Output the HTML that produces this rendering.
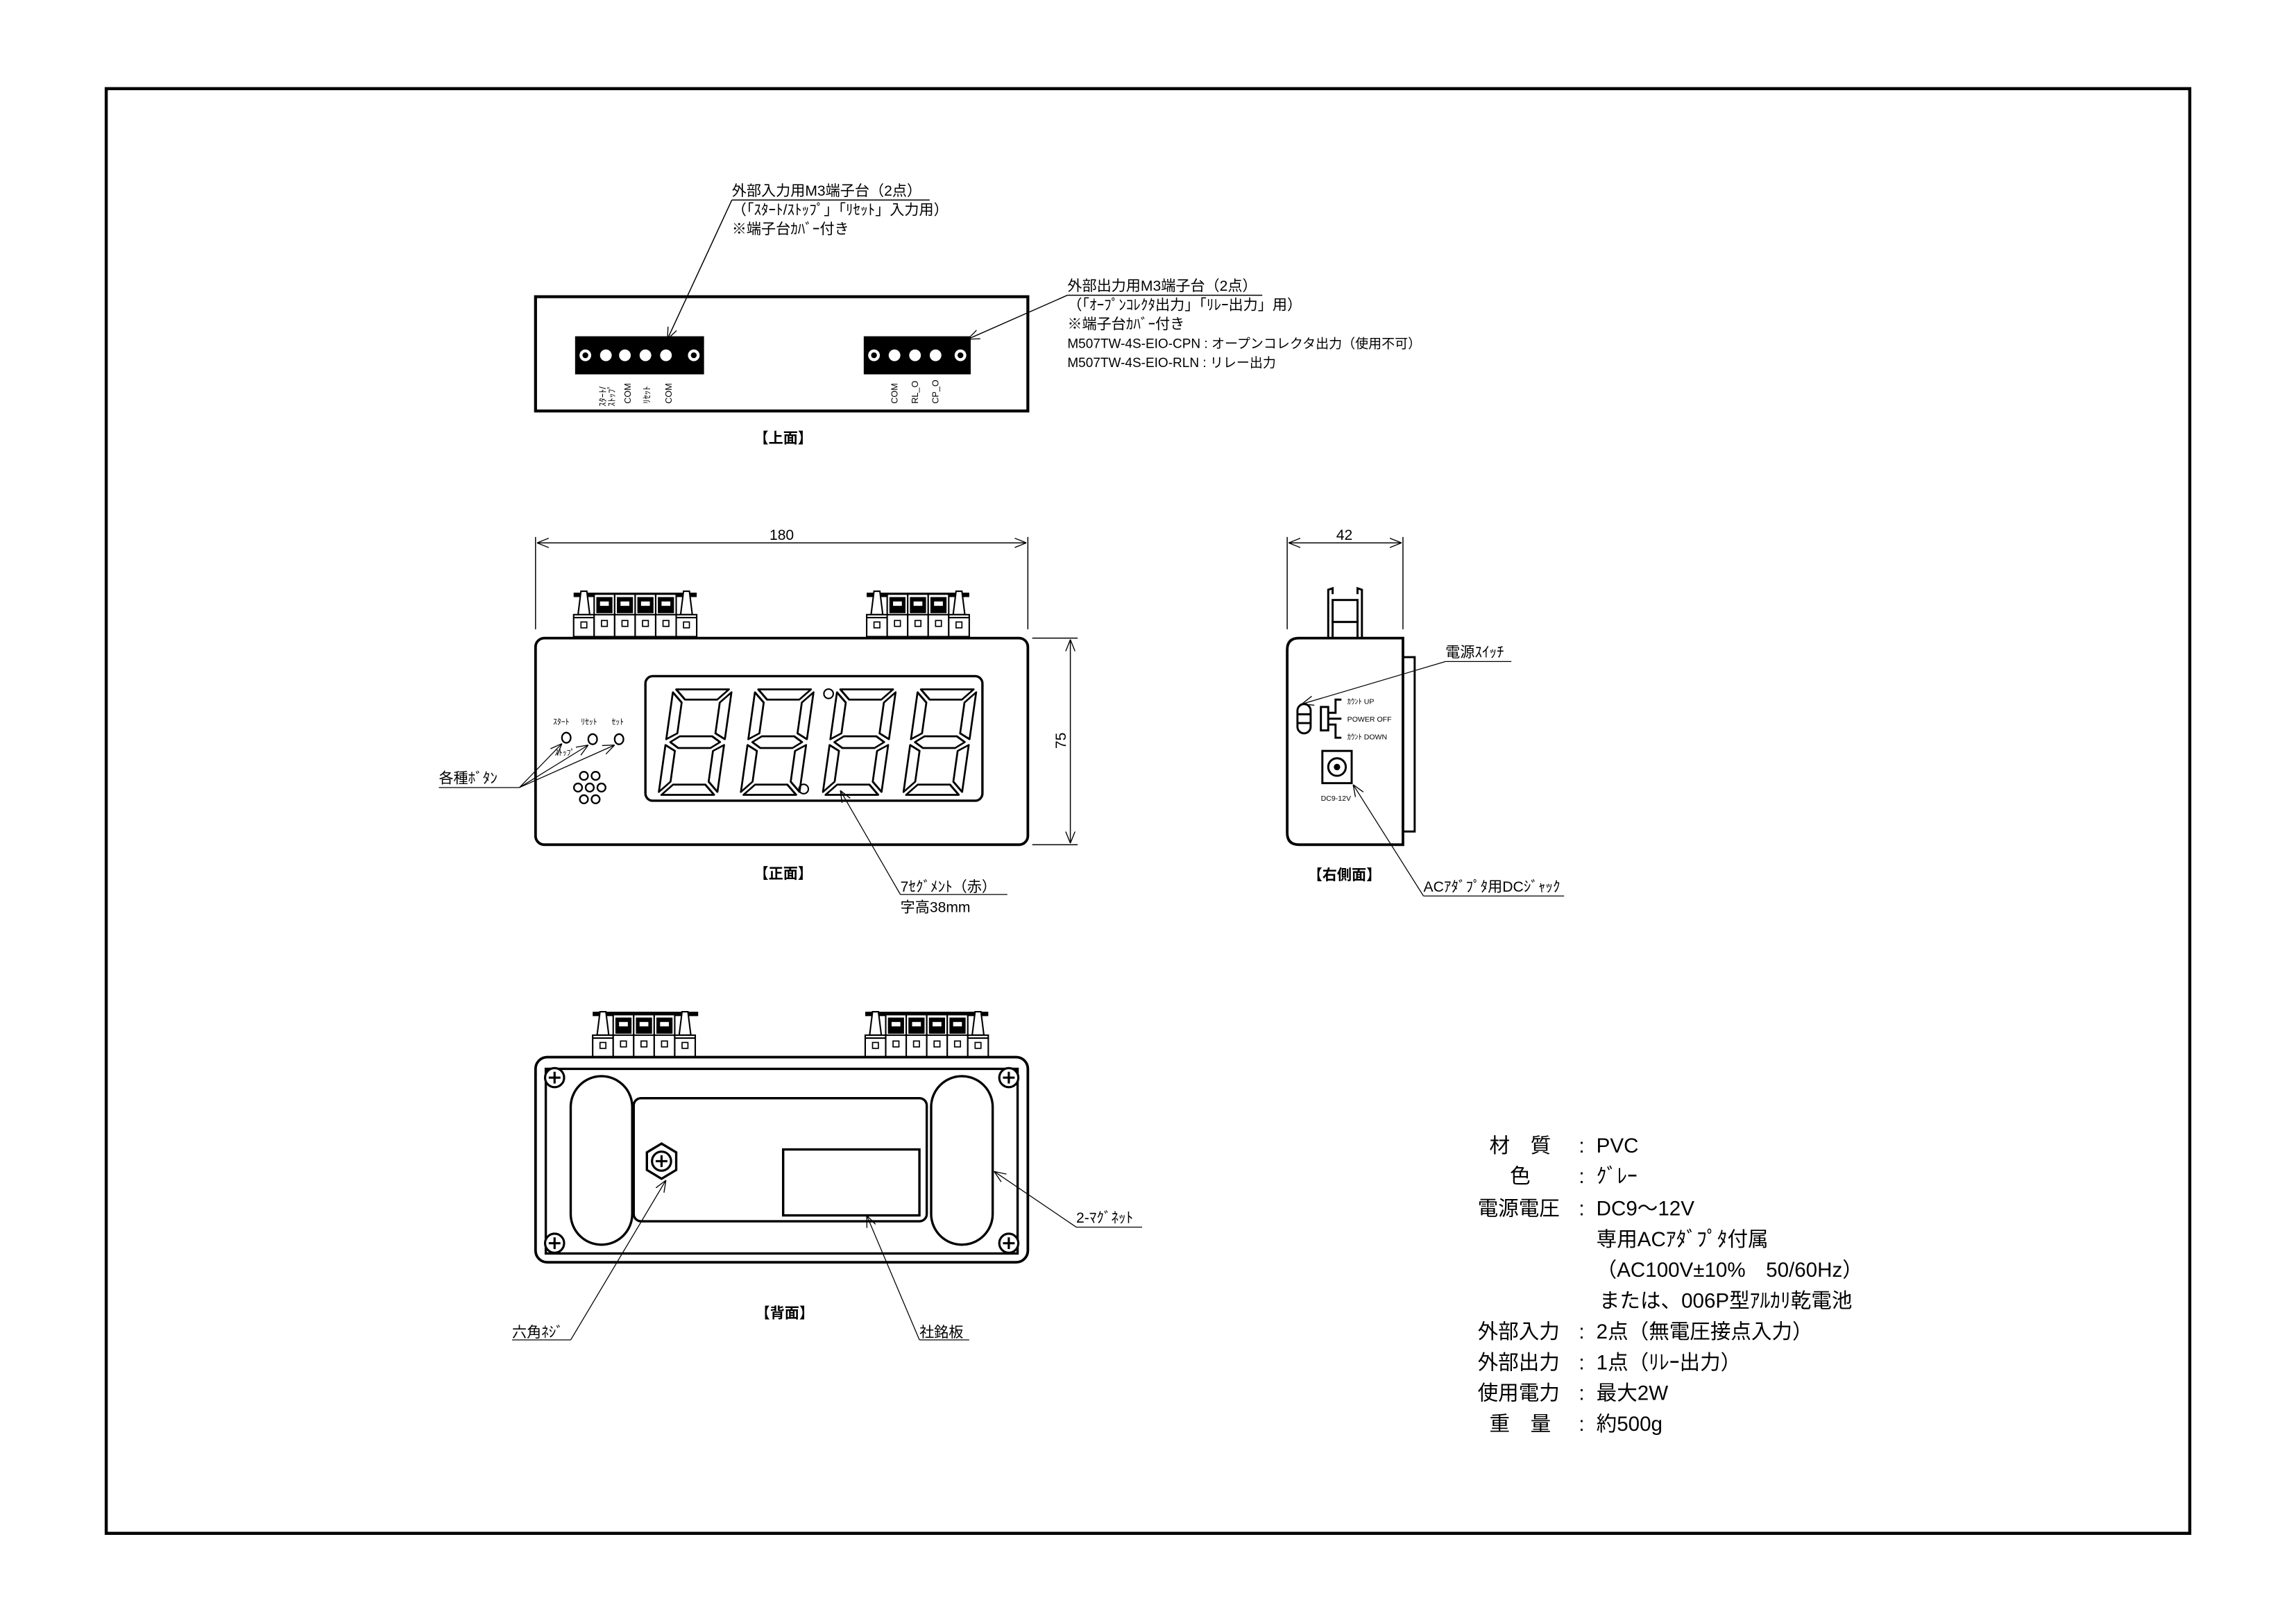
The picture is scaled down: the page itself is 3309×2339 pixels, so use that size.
<!DOCTYPE html>
<html><head><meta charset="utf-8"><style>html,body{margin:0;padding:0;background:#fff;overflow:hidden}svg{display:block}text{font-family:"Liberation Sans","Noto Sans CJK JP",sans-serif;fill:#000}</style></head><body>
<svg width="3309" height="2339" viewBox="0.5 0.5 1567 1107.7" preserveAspectRatio="none" xmlns="http://www.w3.org/2000/svg">
<defs>
<marker id="ar" viewBox="0 0 10 10" refX="10" refY="5" markerWidth="8" markerHeight="8" orient="auto-start-reverse" markerUnits="userSpaceOnUse"><path d="M0,1 L10,5 L0,9" fill="none" stroke="#000" stroke-width="0.8"/></marker>
<g id="term"><rect x="0" y="4" width="14" height="29" fill="#fff" stroke="#000" stroke-width="1"/><rect x="1.5" y="6" width="11" height="11" fill="#000"/><rect x="4" y="9" width="6" height="3" fill="#fff"/><line x1="0" y1="18" x2="14" y2="18" stroke="#000" stroke-width="1"/><rect x="5" y="22" width="4" height="4" fill="none" stroke="#000" stroke-width="0.8"/></g>
<g id="post"><path d="M3,18 L5,2 L9,2 L11,18 Z" fill="#fff" stroke="#000" stroke-width="1"/><rect x="0" y="18" width="14" height="15" fill="#fff" stroke="#000" stroke-width="1"/><line x1="0" y1="20" x2="14" y2="20" stroke="#000" stroke-width="1"/><rect x="5" y="23" width="4" height="4" fill="none" stroke="#000" stroke-width="0.8"/></g>
<g id="dig" fill="none" stroke="#000" stroke-width="1.3" stroke-linejoin="round">
<polygon points="2,0 38,0 31,7 9,7"/><polygon points="9,65 31,65 38,72 2,72"/><polygon points="3,36 9,32 31,32 37,36 31,40 9,40"/><polygon points="0,2 7,9 7,30 0,34"/><polygon points="0,38 7,42 7,63 0,70"/><polygon points="40,2 40,34 33,30 33,9"/><polygon points="40,38 40,70 33,63 33,42"/>
</g>
<g id="scr"><circle r="6.5" fill="#fff" stroke="#000" stroke-width="1.5"/><line x1="-4" y1="0" x2="4" y2="0" stroke="#000" stroke-width="1.5"/><line x1="0" y1="-4" x2="0" y2="4" stroke="#000" stroke-width="1.5"/></g>
</defs>

<rect x="73" y="61" width="1422" height="986" fill="none" stroke="#000" stroke-width="2.1"/>

<!-- TOP VIEW -->
<rect x="366" y="203" width="336" height="78" fill="none" stroke="#000" stroke-width="2"/>
<g>
<rect x="393" y="230" width="88" height="26" fill="#000"/>
<circle cx="400" cy="243" r="4" fill="#fff"/><circle cx="400" cy="243" r="2" fill="#000"/>
<circle cx="474" cy="243" r="4" fill="#fff"/><circle cx="474" cy="243" r="2" fill="#000"/>
<circle cx="414" cy="243" r="4" fill="#fff"/><circle cx="427" cy="243" r="4" fill="#fff"/><circle cx="441" cy="243" r="4" fill="#fff"/><circle cx="455" cy="243" r="4" fill="#fff"/>
<rect x="590" y="230" width="73" height="26" fill="#000"/>
<circle cx="597" cy="243" r="4" fill="#fff"/><circle cx="597" cy="243" r="2" fill="#000"/>
<circle cx="656" cy="243" r="4" fill="#fff"/><circle cx="656" cy="243" r="2" fill="#000"/>
<circle cx="611" cy="243" r="4" fill="#fff"/><circle cx="625" cy="243" r="4" fill="#fff"/><circle cx="639" cy="243" r="4" fill="#fff"/>
</g>
<g font-size="6">
<text transform="translate(414,278) rotate(-90)">ｽﾀｰﾄ/</text>
<text transform="translate(420,278) rotate(-90)">ｽﾄｯﾌﾟ</text>
<text transform="translate(431,276) rotate(-90)">COM</text>
<text transform="translate(444,276) rotate(-90)">ﾘｾｯﾄ</text>
<text transform="translate(459,276) rotate(-90)">COM</text>
<text transform="translate(613,276) rotate(-90)">COM</text>
<text transform="translate(627,276) rotate(-90)">RL_O</text>
<text transform="translate(641,276) rotate(-90)">CP_O</text>
</g>
<text x="535" y="303" font-size="10" text-anchor="middle" font-weight="bold">【上面】</text>

<g font-size="10">
<text x="500" y="134">外部入力用M3端子台（2点）</text>
<text x="500" y="147">（「ｽﾀｰﾄ/ｽﾄｯﾌﾟ」「ﾘｾｯﾄ」入力用）</text>
<text x="500" y="160">※端子台ｶﾊﾞｰ付き</text>
<text x="729" y="199">外部出力用M3端子台（2点）</text>
<text x="729" y="212">（「ｵｰﾌﾟﾝｺﾚｸﾀ出力」「ﾘﾚｰ出力」用）</text>
<text x="729" y="225">※端子台ｶﾊﾞｰ付き</text>
<text x="729" y="238" font-size="9">M507TW-4S-EIO-CPN : オープンコレクタ出力（使用不可）</text>
<text x="729" y="251" font-size="9">M507TW-4S-EIO-RLN : リレー出力</text>
</g>
<g stroke="#000" stroke-width="0.7" fill="none">
<line x1="500" y1="137" x2="635" y2="137"/><line x1="500" y1="137" x2="456" y2="232" marker-end="url(#ar)"/>
<line x1="729" y1="202" x2="862" y2="202"/><line x1="729" y1="202" x2="661" y2="232" marker-end="url(#ar)"/>
</g>

<!-- FRONT VIEW -->
<g stroke="#000" stroke-width="0.7" fill="none">
<line x1="366" y1="367" x2="366" y2="430"/><line x1="702" y1="367" x2="702" y2="430"/>
<line x1="367" y1="371" x2="701" y2="371" marker-start="url(#ar)" marker-end="url(#ar)"/>
<line x1="705" y1="436" x2="736" y2="436"/><line x1="705" y1="577" x2="736" y2="577"/>
<line x1="731" y1="437" x2="731" y2="576" marker-start="url(#ar)" marker-end="url(#ar)"/>
</g>
<text x="534" y="369" font-size="10" text-anchor="middle">180</text>
<text transform="translate(728,506) rotate(-90)" font-size="10" text-anchor="middle">75</text>
<rect x="392" y="405" width="84" height="3" fill="#000"/>
<use href="#post" x="392" y="402"/><use href="#term" x="406" y="402"/><use href="#term" x="420" y="402"/><use href="#term" x="434" y="402"/><use href="#term" x="448" y="402"/><use href="#post" x="462" y="402"/>
<rect x="592" y="405" width="70" height="3" fill="#000"/>
<use href="#post" x="592" y="402"/><use href="#term" x="606" y="402"/><use href="#term" x="620" y="402"/><use href="#term" x="634" y="402"/><use href="#post" x="648" y="402"/>
<rect x="366" y="436" width="336" height="141" rx="6" fill="#fff" stroke="#000" stroke-width="1.8"/>
<rect x="441" y="462" width="230" height="85" rx="5" fill="none" stroke="#000" stroke-width="1.6"/>
<use href="#dig" transform="translate(460,471) skewX(-8)"/>
<use href="#dig" transform="translate(516,471) skewX(-8)"/>
<use href="#dig" transform="translate(572,471) skewX(-8)"/>
<use href="#dig" transform="translate(627,471) skewX(-8)"/>
<circle cx="566" cy="474" r="3.2" fill="none" stroke="#000" stroke-width="1"/>
<circle cx="549" cy="539" r="3.2" fill="none" stroke="#000" stroke-width="1"/>
<g font-size="5.5"><text x="378" y="495">ｽﾀｰﾄ</text><text x="397" y="495">ﾘｾｯﾄ</text><text x="418" y="495">ｾｯﾄ</text><text x="379" y="516">ｽﾄｯﾌﾟ</text></g>
<g fill="none" stroke="#000" stroke-width="1.1">
<ellipse cx="387" cy="504" rx="3" ry="3.5"/><ellipse cx="405" cy="505" rx="3" ry="3.5"/><ellipse cx="423" cy="505" rx="3" ry="3.5"/>
<circle cx="399" cy="530" r="2.8"/><circle cx="407" cy="530" r="2.8"/><circle cx="395" cy="538" r="2.8"/><circle cx="403" cy="538" r="2.8"/><circle cx="411" cy="538" r="2.8"/><circle cx="399" cy="546" r="2.8"/><circle cx="407" cy="546" r="2.8"/>
</g>
<text x="300" y="535" font-size="10">各種ﾎﾞﾀﾝ</text>
<g stroke="#000" stroke-width="0.6" fill="none">
<line x1="300" y1="538" x2="355" y2="538"/>
<line x1="355" y1="538" x2="384" y2="508" marker-end="url(#ar)"/><line x1="355" y1="538" x2="402" y2="509" marker-end="url(#ar)"/><line x1="355" y1="538" x2="420" y2="509" marker-end="url(#ar)"/>
<line x1="615" y1="611" x2="688" y2="611"/><line x1="615" y1="611" x2="574" y2="540" marker-end="url(#ar)"/>
</g>
<text x="535" y="600" font-size="10" text-anchor="middle" font-weight="bold">【正面】</text>
<text x="615" y="609" font-size="10">7ｾｸﾞﾒﾝﾄ（赤）</text>
<text x="615" y="623" font-size="10">字高38mm</text>

<!-- RIGHT SIDE VIEW -->
<g stroke="#000" stroke-width="0.7" fill="none">
<line x1="879" y1="367" x2="879" y2="430"/><line x1="958" y1="367" x2="958" y2="430"/>
<line x1="880" y1="371" x2="957" y2="371" marker-start="url(#ar)" marker-end="url(#ar)"/>
</g>
<text x="918" y="369" font-size="10" text-anchor="middle">42</text>
<g fill="#fff" stroke="#000" stroke-width="1.4">
<path d="M907,436 L907,403 L910,402 L910,406 M930,436 L930,403 L927,402 L927,406"/>
<rect x="910" y="410" width="17" height="15"/><rect x="910" y="425" width="17" height="11"/>
<rect x="958" y="449" width="8" height="119"/>
<path d="M887,436 L958,436 L958,577 L887,577 Q879,577 879,569 L879,444 Q879,436 887,436 Z" stroke-width="1.8"/>
<rect x="886" y="481" width="9" height="20" rx="4.5"/>
<line x1="886" y1="488" x2="895" y2="488"/><line x1="886" y1="494" x2="895" y2="494"/>
<rect x="902" y="483" width="5" height="16"/>
<path d="M907,487 L912,487 L912,478 L916,478 M907,491 L916,491 M907,495 L912,495 L912,504 L916,504" fill="none"/>
<rect x="903" y="513" width="20" height="22"/>
<circle cx="913" cy="524" r="6"/><circle cx="913" cy="524" r="1.5" fill="#000"/>
</g>
<g font-size="5"><text x="920" y="481">ｶｳﾝﾄ UP</text><text x="920" y="493">POWER OFF</text><text x="920" y="505">ｶｳﾝﾄ DOWN</text><text x="902" y="547">DC9-12V</text></g>
<text x="987" y="449" font-size="10">電源ｽｲｯﾁ</text>
<text x="972" y="609" font-size="10">ACｱﾀﾞﾌﾟﾀ用DCｼﾞｬｯｸ</text>
<g stroke="#000" stroke-width="0.6" fill="none">
<line x1="987" y1="452" x2="1032" y2="452"/><line x1="987" y1="452" x2="889" y2="481" marker-end="url(#ar)"/>
<line x1="972" y1="612" x2="1068" y2="612"/><line x1="972" y1="612" x2="924" y2="536" marker-end="url(#ar)"/>
</g>
<text x="918" y="601" font-size="10" text-anchor="middle" font-weight="bold">【右側面】</text>

<!-- BACK VIEW -->
<rect x="405" y="691" width="72" height="3" fill="#000"/>
<use href="#post" x="405" y="689"/><use href="#term" x="419" y="689"/><use href="#term" x="433" y="689"/><use href="#term" x="447" y="689"/><use href="#post" x="461" y="689"/>
<rect x="591" y="691" width="84" height="3" fill="#000"/>
<use href="#post" x="591" y="689"/><use href="#term" x="605" y="689"/><use href="#term" x="619" y="689"/><use href="#term" x="633" y="689"/><use href="#term" x="647" y="689"/><use href="#post" x="661" y="689"/>
<g fill="none" stroke="#000" stroke-width="1.6">
<rect x="366" y="722" width="336" height="140" rx="8" fill="#fff" stroke-width="1.8"/>
<rect x="373" y="730" width="322" height="126"/>
<rect x="390" y="735" width="42" height="115" rx="21"/>
<rect x="636" y="735" width="42" height="115" rx="21"/>
<rect x="433" y="750" width="200" height="84" rx="5"/>
<rect x="535" y="785" width="93" height="45"/>
<polygon points="452,781 462,787 462,799 452,805 442,799 442,787"/>
</g>
<use href="#scr" x="452" y="793"/>
<use href="#scr" x="379" y="736"/><use href="#scr" x="689" y="736"/><use href="#scr" x="379" y="849"/><use href="#scr" x="689" y="849"/>
<text x="735" y="835" font-size="10">2-ﾏｸﾞﾈｯﾄ</text>
<text x="350" y="913" font-size="10">六角ﾈｼﾞ</text>
<text x="628" y="913" font-size="10">社銘板</text>
<text x="536" y="900" font-size="10" text-anchor="middle" font-weight="bold">【背面】</text>
<g stroke="#000" stroke-width="0.6" fill="none">
<line x1="735" y1="838" x2="780" y2="838"/><line x1="735" y1="838" x2="679" y2="800" marker-end="url(#ar)"/>
<line x1="350" y1="915" x2="390" y2="915"/><line x1="390" y1="915" x2="455" y2="806" marker-end="url(#ar)"/>
<line x1="628" y1="915" x2="662" y2="915"/><line x1="628" y1="915" x2="592" y2="830" marker-end="url(#ar)"/>
</g>

<!-- SPEC -->
<g font-size="14">
<text x="1017" y="787">材　質</text><text x="1078" y="787">:</text><text x="1090" y="787">PVC</text>
<text x="1031" y="808">色</text><text x="1078" y="808">:</text><text x="1090" y="808">ｸﾞﾚｰ</text>
<text x="1009" y="830">電源電圧</text><text x="1078" y="830">:</text><text x="1090" y="830">DC9～12V</text>
<text x="1090" y="851">専用ACｱﾀﾞﾌﾟﾀ付属</text>
<text x="1090" y="872">（AC100V±10%　50/60Hz）</text>
<text x="1092" y="893">または、006P型ｱﾙｶﾘ乾電池</text>
<text x="1009" y="914">外部入力</text><text x="1078" y="914">:</text><text x="1090" y="914">2点（無電圧接点入力）</text>
<text x="1009" y="935">外部出力</text><text x="1078" y="935">:</text><text x="1090" y="935">1点（ﾘﾚｰ出力）</text>
<text x="1009" y="956">使用電力</text><text x="1078" y="956">:</text><text x="1090" y="956">最大2W</text>
<text x="1017" y="977">重　量</text><text x="1078" y="977">:</text><text x="1090" y="977">約500g</text>
</g>
</svg>
</body></html>
